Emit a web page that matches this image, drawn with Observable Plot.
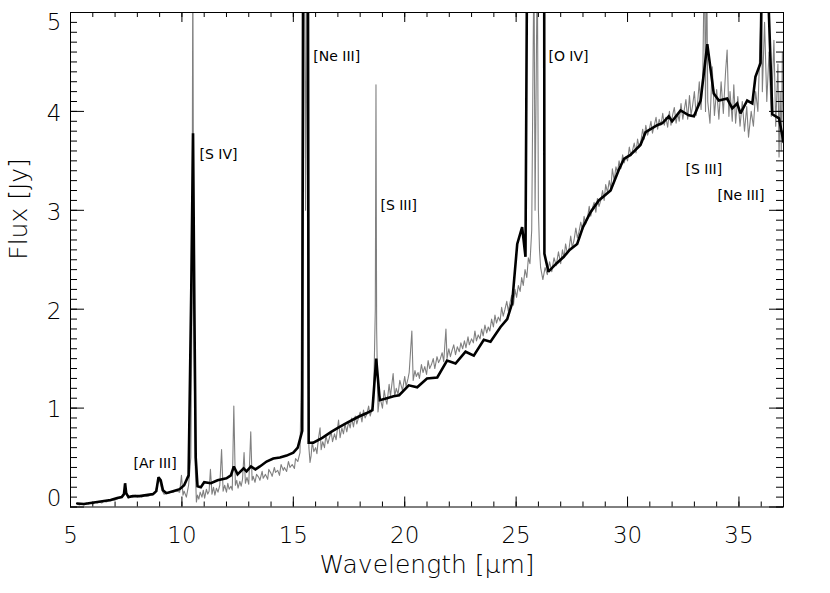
<!DOCTYPE html>
<html>
<head>
<meta charset="utf-8">
<script src="https://cdn.jsdelivr.net/npm/d3@7"></script>
<script src="https://cdn.jsdelivr.net/npm/@observablehq/plot@0.6"></script>
<style>
  html, body { margin: 0; padding: 0; background: #fff; }
  #chart svg { display: block; }
</style>
</head>
<body>
<div id="chart"></div>
<script>
// High-resolution spectrum (gray): [wavelength µm, flux Jy]
const graySpectrum = [
  [5.3,0.03],[5.4,0.02],[5.5,0.03],[5.6,0.02],[5.7,0.04],[5.8,0.03],[5.9,0.04],[6.0,0.03],[6.1,0.05],[6.2,0.04],
  [6.3,0.05],[6.4,0.04],[6.5,0.06],[6.6,0.05],[6.7,0.06],[6.8,0.06],[6.9,0.07],[7.0,0.07],[7.1,0.08],[7.2,0.09],
  [7.3,0.10],[7.4,0.14],[7.45,0.22],[7.5,0.15],[7.6,0.09],[7.7,0.11],[7.8,0.10],[7.9,0.12],[8.0,0.10],[8.1,0.11],
  [8.2,0.10],[8.3,0.12],[8.4,0.11],[8.5,0.11],[8.6,0.12],[8.7,0.12],[8.8,0.14],[8.9,0.24],[9.0,0.27],[9.1,0.17],
  [9.2,0.13],[9.3,0.14],[9.4,0.14],[9.5,0.15],[9.6,0.15],[9.7,0.16],[9.8,0.16],[9.9,0.15],[9.98,0.32],[10.05,0.12],
  [10.1,0.16],[10.2,0.10],[10.3,0.22],[10.4,0.5],[10.45,2.0],[10.49,5.6],[10.53,2.0],[10.6,0.4],[10.65,0.05],
  [10.7,0.12],[10.76,0.08],[10.82,0.15],[10.9,0.10],[10.96,0.17],[11.02,0.09],[11.1,0.18],[11.16,0.13],[11.22,0.16],
  [11.28,0.38],[11.35,0.13],[11.42,0.20],[11.48,0.12],[11.55,0.19],[11.62,0.15],[11.7,0.22],[11.78,0.58],[11.85,0.16],
  [11.92,0.22],[12.0,0.15],[12.06,0.24],[12.12,0.18],[12.2,0.21],[12.26,0.17],[12.33,1.02],[12.4,0.22],[12.46,0.27],
  [12.52,0.19],[12.6,0.26],[12.66,0.21],[12.72,0.28],[12.79,0.55],[12.85,0.24],[12.92,0.30],[13.0,0.23],[13.09,0.76],
  [13.15,0.27],[13.2,0.31],[13.28,0.25],[13.35,0.33],[13.45,0.30],[13.5,0.27],[13.6,0.36],[13.65,0.29],[13.75,0.33],
  [13.85,0.28],[13.9,0.38],[14.0,0.34],[14.05,0.31],[14.15,0.40],[14.2,0.35],[14.3,0.37],[14.38,0.32],[14.45,0.43],
  [14.55,0.37],[14.6,0.40],[14.7,0.36],[14.78,0.46],[14.85,0.40],[14.95,0.43],[15.05,0.39],[15.1,0.49],[15.2,0.46],
  [15.3,0.55],[15.35,1.2],[15.45,5.6],[15.5,5.6],[15.55,3.0],[15.6,5.6],[15.65,2.0],[15.7,0.6],
  [15.75,0.45],[15.8,0.52],[15.85,0.66],[15.92,0.56],[16.0,0.60],[16.06,0.54],[16.12,0.68],[16.2,0.80],[16.25,0.58],
  [16.32,0.66],[16.4,0.60],[16.46,0.72],[16.55,0.64],[16.62,0.70],[16.7,0.76],[16.76,0.66],[16.85,0.74],[16.92,0.68],
  [17.03,0.88],[17.1,0.70],[17.18,0.80],[17.25,0.74],[17.32,0.84],[17.4,0.76],[17.48,0.86],[17.55,0.80],[17.62,0.90],
  [17.7,0.81],[17.78,0.92],[17.85,0.84],[17.92,0.90],[18.0,0.96],[18.08,0.86],[18.15,0.98],[18.22,0.90],[18.3,0.94],
  [18.38,1.02],[18.45,0.92],[18.52,0.98],[18.6,1.05],[18.68,2.0],[18.71,4.27],[18.74,1.8],[18.8,0.96],[18.88,1.12],
  [19.0,1.00],[19.08,1.18],[19.15,1.08],[19.2,1.04],[19.3,1.24],[19.36,1.12],[19.48,1.35],[19.55,1.12],[19.62,1.20],
  [19.7,1.14],[19.78,1.28],[19.85,1.22],[19.9,1.18],[20.0,1.32],[20.06,1.22],[20.15,1.30],[20.2,1.36],[20.32,1.78],
  [20.38,1.28],[20.46,1.38],[20.52,1.32],[20.6,1.36],[20.66,1.30],[20.75,1.44],[20.82,1.36],[20.9,1.42],[20.98,1.34],
  [21.05,1.48],[21.12,1.40],[21.2,1.44],[21.28,1.50],[21.35,1.40],[21.45,1.52],[21.52,1.46],[21.6,1.50],[21.68,1.56],
  [21.75,1.47],[21.85,1.80],[21.9,1.50],[21.98,1.60],[22.05,1.52],[22.12,1.58],[22.2,1.64],[22.28,1.54],[22.36,1.62],
  [22.45,1.57],[22.52,1.66],[22.6,1.60],[22.68,1.68],[22.75,1.61],[22.84,1.72],[22.9,1.64],[23.0,1.70],[23.08,1.66],
  [23.15,1.78],[23.22,1.68],[23.3,1.74],[23.38,1.70],[23.45,1.80],[23.52,1.73],[23.6,1.84],[23.68,1.76],[23.75,1.82],
  [23.82,1.78],[23.9,1.90],[23.98,1.82],[24.05,1.94],[24.12,1.86],[24.2,1.92],[24.28,1.88],[24.35,2.02],[24.42,1.93],
  [24.5,2.00],[24.58,2.08],[24.65,1.98],[24.72,2.06],[24.8,2.14],[24.88,2.04],[24.95,2.20],[25.02,2.12],[25.1,2.24],
  [25.18,2.18],[25.25,2.32],[25.32,2.24],[25.4,2.40],[25.48,2.32],[25.55,2.52],[25.62,2.46],[25.7,2.8],
  [25.8,5.6],[25.85,3.0],[25.95,5.6],[26.0,3.0],[26.05,2.6],[26.1,2.42],[26.2,2.30],[26.3,2.42],[26.4,2.35],
  [26.5,2.48],[26.6,2.38],[26.7,2.52],[26.8,2.44],[26.9,2.58],[27.0,2.46],[27.08,2.60],[27.15,2.52],[27.22,2.66],
  [27.3,2.56],[27.38,2.62],[27.45,2.74],[27.52,2.62],[27.6,2.70],[27.68,2.82],[27.75,2.72],[27.82,2.78],[27.9,2.88],
  [27.98,2.80],[28.05,2.94],[28.12,2.86],[28.2,2.92],[28.28,3.04],[28.35,2.94],[28.42,3.02],[28.5,3.08],[28.58,2.98],
  [28.65,3.12],[28.72,3.04],[28.8,3.10],[28.88,3.20],[28.95,3.10],[29.02,3.26],[29.1,3.18],[29.18,3.30],[29.25,3.22],
  [29.32,3.42],[29.4,3.30],[29.48,3.44],[29.55,3.38],[29.62,3.50],[29.7,3.42],[29.78,3.56],[29.85,3.48],[29.92,3.54],
  [30.0,3.50],[30.08,3.64],[30.15,3.55],[30.22,3.60],[30.3,3.68],[30.38,3.58],[30.45,3.72],[30.52,3.64],[30.6,3.70],
  [30.68,3.82],[30.75,3.72],[30.82,3.86],[30.9,3.76],[30.98,3.82],[31.05,3.90],[31.12,3.78],[31.2,3.86],[31.28,3.94],
  [31.35,3.82],[31.42,3.92],[31.5,3.86],[31.58,3.98],[31.65,3.86],[31.72,3.94],[31.8,3.84],[31.88,4.00],[31.95,3.86],
  [32.02,3.96],[32.1,4.04],[32.18,3.88],[32.25,3.98],[32.32,3.90],[32.4,4.08],[32.48,3.92],[32.55,4.02],[32.62,4.12],
  [32.7,3.92],[32.78,4.16],[32.85,3.96],[32.92,4.06],[33.0,4.20],[33.08,3.96],[33.15,4.10],[33.22,4.30],[33.3,4.02],
  [33.38,4.40],[33.45,5.6],[33.5,4.0],[33.55,5.6],
  [33.6,4.1],[33.7,3.88],[33.8,4.45],[33.9,3.96],[34.0,4.22],[34.1,3.92],[34.2,4.30],[34.3,3.98],[34.4,4.40],
  [34.47,4.62],[34.55,3.95],[34.6,4.20],[34.7,3.90],[34.77,4.27],[34.85,3.88],[34.95,4.15],[35.05,3.85],
  [35.15,4.10],[35.25,3.80],[35.35,4.05],[35.43,3.74],[35.55,4.00],[35.65,3.85],[35.75,4.20],[35.85,4.00],
  [35.97,4.86],[36.0,5.6],[36.05,4.2],[36.15,4.9],[36.25,4.1],[36.35,4.6],[36.45,3.95],[36.57,4.72],[36.65,3.85],
  [36.75,4.48],[36.8,3.54],[36.85,4.2],[36.9,3.6],[36.95,4.6],[37.0,3.7]
];

// Low-resolution spectrum (black): [wavelength µm, flux Jy]
const blackSpectrum = [
  [5.3,0.035],[5.6,0.03],[5.9,0.04],[6.2,0.05],[6.5,0.06],[6.8,0.07],[7.1,0.09],[7.3,0.10],[7.4,0.13],[7.45,0.24],
  [7.5,0.14],[7.6,0.10],[7.8,0.11],[8.1,0.11],[8.4,0.12],[8.7,0.13],[8.85,0.16],[8.95,0.30],[9.05,0.27],[9.15,0.17],
  [9.3,0.14],[9.6,0.16],[9.9,0.18],[10.1,0.22],[10.3,0.32],[10.42,2.2],[10.5,3.78],[10.56,2.0],[10.62,0.5],
  [10.7,0.21],[10.85,0.20],[11.0,0.25],[11.3,0.24],[11.6,0.27],[12.0,0.29],[12.2,0.32],[12.33,0.41],[12.5,0.33],
  [12.77,0.39],[12.9,0.36],[13.1,0.41],[13.3,0.38],[13.5,0.41],[13.8,0.46],[14.1,0.49],[14.4,0.50],[14.7,0.52],
  [15.0,0.55],[15.2,0.60],[15.4,0.77],[15.46,8],[15.64,8],[15.69,0.65],[15.9,0.65],[16.3,0.70],[16.7,0.76],
  [17.0,0.80],[17.4,0.85],[17.9,0.91],[18.3,0.95],[18.55,0.98],[18.72,1.50],[18.88,1.08],[19.2,1.10],[19.5,1.12],
  [19.75,1.13],[20.18,1.23],[20.56,1.21],[21.0,1.30],[21.46,1.31],[21.9,1.48],[22.28,1.45],[22.73,1.57],[23.1,1.53],
  [23.55,1.69],[23.85,1.67],[24.3,1.82],[24.6,1.90],[24.82,2.06],[25.05,2.66],[25.27,2.83],[25.42,2.53],[25.55,8],
  [26.25,8],[26.27,2.56],[26.45,2.38],[26.8,2.46],[27.14,2.53],[27.4,2.60],[27.74,2.66],[28.0,2.83],[28.34,2.98],
  [28.71,3.10],[29.24,3.20],[29.61,3.41],[29.84,3.52],[30.13,3.56],[30.58,3.66],[30.81,3.79],[31.11,3.83],
  [31.33,3.86],[31.56,3.88],[31.85,3.95],[32.0,3.90],[32.38,4.01],[32.75,3.96],[32.98,3.95],[33.28,4.11],
  [33.58,4.68],[33.87,4.18],[34.1,4.11],[34.47,4.13],[34.7,4.03],[34.92,4.08],[35.07,3.98],[35.37,4.11],
  [35.6,4.08],[35.74,4.35],[35.97,4.49],[36.05,5.8],[36.22,5.8],[36.5,3.97],[36.8,3.93],[37.0,3.69]
];

// Line identifications
const lineLabels = ["[Ar III]", "[S IV]", "[Ne III]", "[S III]", "[O IV]", "[S III]", "[Ne III]"];
const lineLabelX = [7.83, 10.79, 15.9, 18.91, 26.45, 32.6, 34.04];
const lineLabelY = [0.44, 3.56, 4.55, 3.05, 4.55, 3.41, 3.15];

// Axis ticks
const xMajorTicks = [5, 10, 15, 20, 25, 30, 35];
const xMinorTicks = d3.range(5, 38, 1);
const yMajorTicks = [0, 1, 2, 3, 4, 5];
const yMinorTicks = d3.range(0, 51, 1).map(v => v / 10);

const xTitle = "Wavelength [μm]";
const yTitle = "Flux [Jy]";

const W = 830, H = 593;
const mL = 70, mR = 47, mT = 12, mB = 86.5;
const plotW = W - mL - mR, plotH = H - mT - mB;
const font = "'DejaVu Sans', sans-serif";

const labels = lineLabels.map((t, i) => ({t, x: lineLabelX[i], y: lineLabelY[i]}));

const chart = Plot.plot({
  width: W, height: H,
  marginLeft: mL, marginRight: mR, marginTop: mT, marginBottom: mB,
  style: {fontFamily: font, background: "#fff", color: "#000"},
  x: {domain: [5, 37], axis: null},
  y: {domain: [0, 5], axis: null},
  marks: [
    Plot.line(graySpectrum, {x: d => d[0], y: d => d[1], stroke: "#808080", strokeWidth: 1.1, clip: true}),
    Plot.line(blackSpectrum, {x: d => d[0], y: d => d[1], stroke: "#000", strokeWidth: 2.6, clip: true, strokeLinejoin: "miter", strokeMiterlimit: 2}),
    // minor ticks (inward)
    Plot.ruleX(xMinorTicks, {x: d => d, insetTop: plotH - 5, stroke: "#000"}),
    Plot.ruleX(xMinorTicks, {x: d => d, insetBottom: plotH - 5, stroke: "#000"}),
    Plot.ruleX(xMajorTicks, {x: d => d, insetTop: plotH - 10, stroke: "#000"}),
    Plot.ruleX(xMajorTicks, {x: d => d, insetBottom: plotH - 10, stroke: "#000"}),
    Plot.ruleY(yMinorTicks, {y: d => d, insetRight: plotW - 7, stroke: "#000"}),
    Plot.ruleY(yMinorTicks, {y: d => d, insetLeft: plotW - 7, stroke: "#000"}),
    Plot.ruleY(yMajorTicks, {y: d => d, insetRight: plotW - 14, stroke: "#000"}),
    Plot.ruleY(yMajorTicks, {y: d => d, insetLeft: plotW - 14, stroke: "#000"}),
    Plot.frame({stroke: "#000", strokeWidth: 1}),
    // tick labels
    Plot.text(xMajorTicks, {x: d => d, frameAnchor: "bottom", dy: 29, text: d => String(d), fontSize: 23, fontWeight: 200, lineAnchor: "middle"}),
    Plot.text(yMajorTicks.filter(v => v > 0 && v < 5), {y: d => d, frameAnchor: "left", dx: -9, textAnchor: "end", text: d => String(d), fontSize: 23, fontWeight: 200, dy: 2}),
    Plot.text(yMajorTicks.filter(v => v === 5), {y: d => d, frameAnchor: "left", dx: -9, textAnchor: "end", text: d => String(d), fontSize: 23, fontWeight: 200, dy: 10}),
    Plot.text(yMajorTicks.filter(v => v === 0), {y: d => d, frameAnchor: "left", dx: -9, textAnchor: "end", text: d => String(d), fontSize: 23, fontWeight: 200, dy: -8}),
    // axis titles
    Plot.text([xTitle], {frameAnchor: "bottom", dy: 58, text: d => d, fontSize: 25, fontWeight: 200, lineAnchor: "middle"}),
    Plot.text([yTitle], {frameAnchor: "left", dx: -52, rotate: -90, text: d => d, fontSize: 25, fontWeight: 200, lineAnchor: "middle"}),
    // line labels
    Plot.text(labels, {x: "x", y: "y", text: "t", textAnchor: "start", fontSize: 14, fontWeight: 400, lineAnchor: "middle"})
  ]
});
document.getElementById("chart").appendChild(chart);
</script>
</body>
</html>
